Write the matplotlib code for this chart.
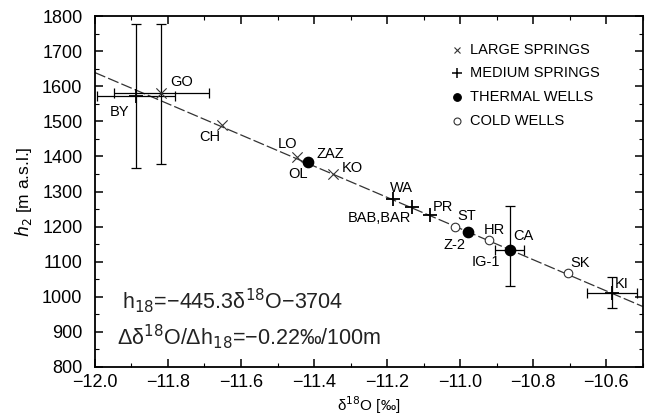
import numpy as np
import matplotlib.pyplot as plt
from matplotlib.ticker import MultipleLocator

plt.rcParams['font.family'] = ['Liberation Sans', 'DejaVu Sans']

# sampling points: name, delta18O, altitude, group
names = ['BY', 'GO', 'CH', 'LO', 'ZAZ', 'KO', 'WA', 'BAB,BAR', 'PR', 'ST', 'Z-2', 'HR', 'CA', 'SK', 'KI']
d18o = [-11.888, -11.819, -11.652, -11.447, -11.417, -11.348, -11.184, -11.132, -11.082,
        -11.014, -10.980, -10.920, -10.864, -10.704, -10.584]
alt = [1573, 1581, 1490, 1399, 1385, 1351, 1279, 1257, 1234, 1200, 1185, 1162, 1134, 1068, 1011]
group = ['medium', 'large', 'large', 'large', 'thermal', 'large', 'medium', 'medium', 'medium',
         'cold', 'thermal', 'cold', 'thermal', 'cold', 'medium']

# error bars
err_x = [-11.888, -11.819, -10.864, -10.584]
err_y = [1573, 1581, 1134, 1011]
err_dx = [0.107, 0.13, 0.04, 0.068]
err_lo = [205, 202, 103, 43]
err_hi = [205, 197, 125, 46]

# regression h = slope * d18O + intercept
slope, intercept = -445.3, -3704

fig = plt.figure(figsize=(6.5, 4.2), dpi=100)
ax = fig.add_axes([0.146, 0.127, 0.843, 0.834])

xl = np.array([-12.0, -10.5])
ax.plot(xl, slope * xl + intercept, color='#333333', lw=0.9, dashes=(9, 2.5), zorder=1)

ax.errorbar(err_x, err_y, xerr=err_dx, yerr=[err_lo, err_hi], fmt='none',
            ecolor='black', elinewidth=0.9, capsize=3.5, capthick=0.9, zorder=2)

labels = {'large': 'LARGE SPRINGS', 'medium': 'MEDIUM SPRINGS',
          'thermal': 'THERMAL WELLS', 'cold': 'COLD WELLS'}
for g in ['large', 'medium', 'thermal', 'cold']:
    xs = [x for x, k in zip(d18o, group) if k == g]
    ys = [y for y, k in zip(alt, group) if k == g]
    if g == 'large':
        ax.scatter(xs, ys, marker='x', s=55, c='#333333', linewidths=0.8, zorder=3)
    elif g == 'medium':
        ax.scatter(xs, ys, marker='+', s=110, c='black', linewidths=1.3, zorder=3)
    elif g == 'thermal':
        ax.scatter(xs, ys, marker='o', s=55, c='black', zorder=3)
    else:
        ax.scatter(xs, ys, marker='o', s=38, facecolors='white', edgecolors='#333333',
                   linewidths=0.8, zorder=3)

# point labels (offsets in pixels from the point)
offs = {'BY': (-26, -16), 'GO': (9, 11), 'CH': (-23, -12), 'LO': (-19, 13), 'ZAZ': (9, 8),
        'OL': (-9, -17), 'KO': (9, 6), 'WA': (-3, 11), 'BAB,BAR': (-64, -11), 'PR': (3, 8),
        'ST': (2, 11), 'Z-2': (-24, -13), 'HR': (-6, 10), 'CA': (3, 14), 'IG-1': (-38, -12),
        'SK': (2, 10), 'KI': (3, 9)}
pos = dict(zip(names, zip(d18o, alt)))
pos['OL'] = pos['LO']
pos['IG-1'] = pos['CA']
for n, (dx, dy) in offs.items():
    ax.annotate(n, pos[n], xytext=(dx, dy), textcoords='offset pixels', fontsize=10.5,
                ha='left', va='center', color='black')

# legend
leg_y = [0.905, 0.837, 0.769, 0.701]
legm = {'large': ('x', 5, 0.8, '#333333', '#333333'), 'medium': ('+', 7, 1.1, 'black', 'black'),
        'thermal': ('o', 5.5, 0.8, 'black', 'black'), 'cold': ('o', 5, 0.8, 'white', '#333333')}
for g, yy in zip(['large', 'medium', 'thermal', 'cold'], leg_y):
    m = legm[g]
    ax.plot([0.66], [yy], transform=ax.transAxes, marker=m[0], ms=m[1], mew=m[2],
            mfc=m[3], mec=m[4], ls='none', color=m[4])
    ax.text(0.685, yy, labels[g], transform=ax.transAxes, fontsize=10.5, va='center')

ax.text(0.05, 0.19, 'h$_{18}$=\u2212445.3\u03b4$^{18}$O\u22123704', transform=ax.transAxes,
        fontsize=15.5, color='#222222', va='center')
ax.text(0.04, 0.085, '\u0394\u03b4$^{18}$O/\u0394h$_{18}$=\u22120.22\u2030/100m', transform=ax.transAxes,
        fontsize=15.5, color='#222222', va='center')

ax.set_xlim(-12.0, -10.5)
ax.set_ylim(800, 1800)
ax.xaxis.set_major_locator(MultipleLocator(0.2))
ax.xaxis.set_minor_locator(MultipleLocator(0.1))
ax.yaxis.set_major_locator(MultipleLocator(100))
ax.yaxis.set_minor_locator(MultipleLocator(50))
ax.xaxis.set_major_formatter(plt.FuncFormatter(lambda v, p: f'{v:.1f}'.replace('-', '\u2212')))
ax.tick_params(which='both', direction='in', top=True, right=True, labelsize=13)
ax.tick_params(axis='x', which='major', pad=5)
ax.tick_params(axis='y', which='major', pad=9)
ax.tick_params(which='major', length=6, width=1.1)
ax.tick_params(which='minor', length=3, width=0.8)
for s in ax.spines.values():
    s.set_linewidth(1.3)

ax.set_xlabel('\u03b4$^{18}$O [\u2030]', fontsize=11, labelpad=3)
ax.set_ylabel('$h_2$ [m a.s.l.]', fontsize=12.5, labelpad=6)

fig.savefig('out.png', dpi=100)
